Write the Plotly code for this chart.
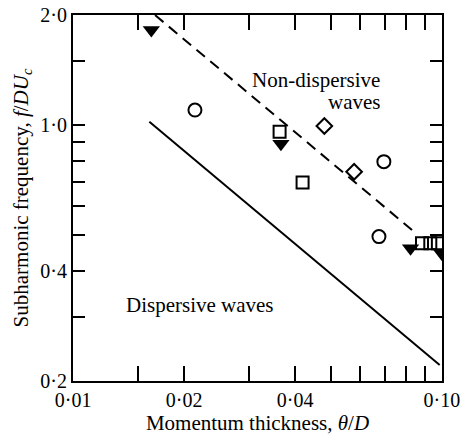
import plotly.graph_objects as go
import numpy as np

# Data
tri_x = [0.0163, 0.0366, 0.0822, 0.100]
tri_y = [1.82, 0.89, 0.461, 0.445]
circ_x = [0.0214, 0.0696, 0.0675]
circ_y = [1.10, 0.795, 0.496]
sq_x = [0.0363, 0.0419, 0.0883, 0.093, 0.0975]
sq_y = [0.96, 0.697, 0.4756, 0.4756, 0.4756]
dia_x = [0.048, 0.0578]
dia_y = [0.995, 0.746]
dash_x = [0.01668, 0.083]
dash_y = [2.0, 0.517]
solid_x = [0.0161, 0.0986]
solid_y = [1.022, 0.221]

x_tickvals = [0.01, 0.015, 0.02, 0.03, 0.04, 0.05, 0.06, 0.07, 0.08, 0.09, 0.10]
x_ticktext = ["0·01", " ", "0·02", " ", "0·04", " ", " ", " ", " ", " ", "0·10"]
y_tickvals = [0.2, 0.3, 0.4, 0.5, 0.6, 0.7, 0.8, 0.9, 1.0, 1.5, 2.0]
y_ticktext = ["0·2", " ", "0·4", " ", " ", " ", " ", " ", "1·0", " ", "2·0"]

FONT = "Liberation Serif"
fig = go.Figure()
fig.add_trace(go.Scatter(x=solid_x, y=solid_y, mode="lines",
                         line=dict(color="black", width=2)))
fig.add_trace(go.Scatter(x=dash_x, y=dash_y, mode="lines",
                         line=dict(color="black", width=2, dash="11px,7px")))
fig.add_trace(go.Scatter(x=circ_x, y=circ_y, mode="markers",
                         marker=dict(symbol="circle-open", size=13, color="black",
                                     line=dict(width=2, color="black"))))
fig.add_trace(go.Scatter(x=sq_x, y=sq_y, mode="markers",
                         marker=dict(symbol="square-open", size=12, color="black",
                                     line=dict(width=2, color="black"))))
fig.add_trace(go.Scatter(x=dia_x, y=dia_y, mode="markers",
                         marker=dict(symbol="diamond-open", size=12, color="black",
                                     line=dict(width=2, color="black"))))
fig.add_trace(go.Scatter(x=tri_x, y=tri_y, mode="markers",
                         marker=dict(symbol="triangle-down", size=15, color="black",
                                     line=dict(width=0))))

fig.add_annotation(x=np.log10(0.0687), y=np.log10(1.329), text="Non-dispersive",
                   showarrow=False, xanchor="right", yanchor="middle",
                   font=dict(family=FONT, size=21, color="black"))
fig.add_annotation(x=np.log10(0.0687), y=np.log10(1.157), text="waves",
                   showarrow=False, xanchor="right", yanchor="middle",
                   font=dict(family=FONT, size=21, color="black"))
fig.add_annotation(x=np.log10(0.01375), y=np.log10(0.3225), text="Dispersive waves",
                   showarrow=False, xanchor="left", yanchor="middle",
                   font=dict(family=FONT, size=21, color="black"))

fig.update_layout(
    width=461, height=442,
    margin=dict(l=73, r=19, t=15, b=61),
    paper_bgcolor="white", plot_bgcolor="white",
    showlegend=False,
    font=dict(family=FONT, size=20, color="black"),
)
fig.update_xaxes(type="log", range=[-2.0002, -0.9998], tickmode="array",
                 tickvals=x_tickvals, ticktext=x_ticktext, tickangle=0,
                 ticks="inside", ticklen=15, tickwidth=2, tickcolor="black",
                 ticklabeloverflow="allow", automargin=False,
                 showline=True, linecolor="black", linewidth=2, mirror="ticks",
                 showgrid=False, zeroline=False,
                 tickfont=dict(family=FONT, size=20),
                 title=dict(text="Momentum thickness, <i>θ</i>/<i>D</i>",
                            font=dict(family=FONT, size=21), standoff=4))
fig.update_yaxes(type="log", range=[np.log10(0.2) - 0.0002, np.log10(2.0) + 0.0002],
                 tickmode="array", tickvals=y_tickvals, ticktext=y_ticktext, tickangle=0,
                 ticks="inside", ticklen=12, tickwidth=2, tickcolor="black",
                 ticklabeloverflow="allow", automargin=False,
                 showline=True, linecolor="black", linewidth=2, mirror="ticks",
                 showgrid=False, zeroline=False,
                 tickfont=dict(family=FONT, size=20),
                 title=dict(text="Subharmonic frequency, <i>f</i>/<i>DU</i><sub><i>c</i></sub>",
                            font=dict(family=FONT, size=21), standoff=6))

fig.write_html("out.html")
